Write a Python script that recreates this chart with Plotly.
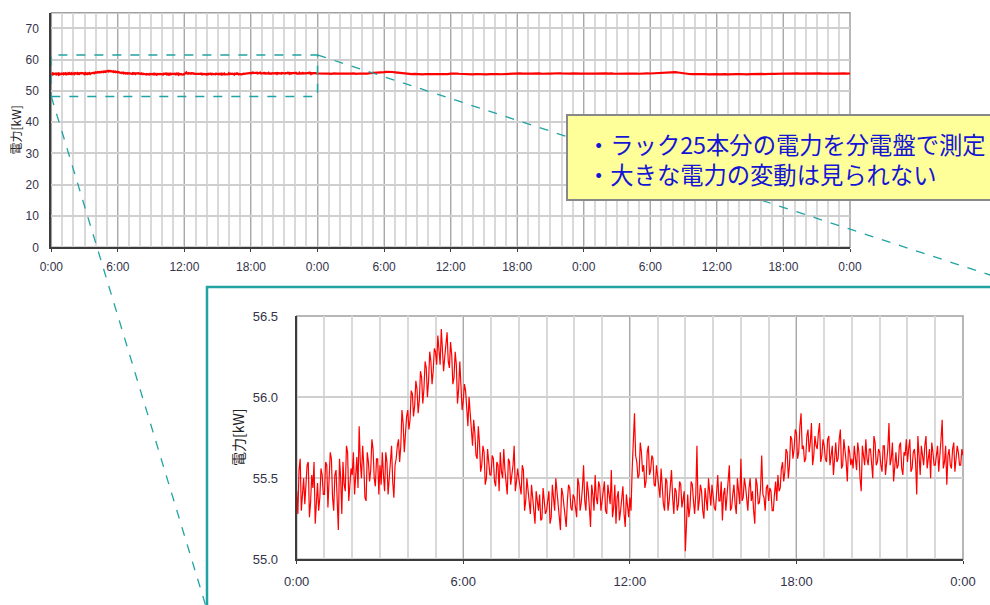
import plotly.graph_objects as go

# ---------------- data ----------------
# Day 1 (inset), samples at :00, :05, :10 ... of every hour, kW, 0:00 .. 24:00
day1_power = [
    55.42, 55.55, 55.30, 55.50, 55.48, 55.60, 55.35, 55.44, 55.22, 55.47, 55.38, 55.52,
    55.40, 55.58, 55.45, 55.62, 55.30, 55.55, 55.18, 55.50, 55.60, 55.42, 55.66, 55.48,
    55.52, 55.40, 55.63, 55.82, 55.50, 55.58, 55.36, 55.60, 55.55, 55.68, 55.45, 55.62,
    55.58, 55.66, 55.42, 55.60, 55.52, 55.70, 55.38, 55.62, 55.74, 55.70, 55.84, 55.78,
    55.92, 55.86, 56.02, 55.95, 56.05, 55.98, 56.12, 56.05, 56.18, 56.10, 56.22, 56.16,
    56.28, 56.38, 56.20, 56.32, 56.25, 56.40, 56.18, 56.26, 56.12, 56.20, 56.05, 56.10,
    55.98, 56.04, 55.82, 55.90, 55.70, 55.78, 55.62, 55.72, 55.58, 55.66, 55.50, 55.60,
    55.52, 55.62, 55.45, 55.58, 55.66, 55.50, 55.55, 55.40, 55.60, 55.52, 55.70, 55.48,
    55.50, 55.40, 55.55, 55.36, 55.44, 55.28, 55.38, 55.22, 55.34, 55.40, 55.25, 55.36,
    55.30, 55.42, 55.26, 55.38, 55.50, 55.32, 55.18, 55.40, 55.28, 55.36, 55.44, 55.30,
    55.38, 55.26, 55.46, 55.35, 55.58, 55.30, 55.42, 55.20, 55.40, 55.52, 55.34, 55.45,
    55.36, 55.48, 55.28, 55.40, 55.55, 55.32, 55.22, 55.42, 55.30, 55.45, 55.20, 55.34,
    55.38, 55.55, 55.90, 55.60, 55.52, 55.66, 55.58, 55.48, 55.70, 55.55, 55.62, 55.45,
    55.50, 55.38, 55.44, 55.30, 55.48, 55.36, 55.55, 55.28, 55.42, 55.34, 55.46, 55.38,
    55.05, 55.40, 55.32, 55.46, 55.28, 55.70, 55.36, 55.42, 55.25, 55.38, 55.50, 55.33,
    55.40, 55.30, 55.52, 55.36, 55.24, 55.44, 55.38, 55.58, 55.32, 55.46, 55.28, 55.40,
    55.62, 55.38, 55.45, 55.30, 55.50, 55.42, 55.22, 55.46, 55.35, 55.64, 55.38, 55.44,
    55.36, 55.42, 55.30, 55.48, 55.52, 55.44, 55.60, 55.54, 55.66, 55.58, 55.74, 55.68,
    55.78, 55.66, 55.90, 55.70, 55.62, 55.80, 55.72, 55.58, 55.76, 55.68, 55.84, 55.64,
    55.70, 55.60, 55.76, 55.66, 55.52, 55.72, 55.62, 55.80, 55.58, 55.68, 55.48, 55.66,
    55.62, 55.70, 55.55, 55.66, 55.42, 55.64, 55.74, 55.58, 55.68, 55.50, 55.72, 55.60,
    55.66, 55.54, 55.70, 55.60, 55.84, 55.62, 55.48, 55.66, 55.58, 55.72, 55.52, 55.64,
    55.60, 55.74, 55.56, 55.68, 55.40, 55.64, 55.70, 55.58, 55.76, 55.62, 55.50, 55.66,
    55.58, 55.70, 55.62, 55.86, 55.60, 55.46, 55.68, 55.56, 55.72, 55.62, 55.66, 55.58,
    55.64,
]

# Day 1, samples in between (at :02.5, :07.5, ...)
day1_mid = [
    55.28, 55.62, 55.40, 55.34, 55.58, 55.26, 55.52, 55.60, 55.36, 55.30, 55.56, 55.40,
    55.60, 55.32, 55.66, 55.38, 55.52, 55.40, 55.62, 55.28, 55.46, 55.70, 55.36, 55.56,
    55.66, 55.50, 55.44, 55.60, 55.70, 55.38, 55.66, 55.48, 55.74, 55.50, 55.62, 55.40,
    55.46, 55.52, 55.66, 55.40, 55.64, 55.48, 55.58, 55.70, 55.60, 55.92, 55.66, 55.88,
    55.80, 56.04, 55.88, 56.10, 55.90, 56.16, 55.96, 56.22, 56.00, 56.28, 56.08, 56.30,
    56.20, 56.30, 56.42, 56.16, 56.36, 56.22, 56.34, 56.08, 56.28, 55.96, 56.22, 55.92,
    56.08, 55.88, 56.00, 55.76, 55.86, 55.64, 55.82, 55.54, 55.70, 55.46, 55.68, 55.52,
    55.64, 55.48, 55.60, 55.42, 55.54, 55.68, 55.44, 55.62, 55.46, 55.58, 55.42, 55.56,
    55.44, 55.58, 55.30, 55.50, 55.36, 55.46, 55.26, 55.42, 55.30, 55.24, 55.44, 55.28,
    55.38, 55.22, 55.46, 55.30, 55.40, 55.26, 55.44, 55.34, 55.20, 55.46, 55.32, 55.40,
    55.32, 55.50, 55.30, 55.44, 55.36, 55.48, 55.32, 55.46, 55.30, 55.38, 55.48, 55.30,
    55.44, 55.30, 55.46, 55.34, 55.26, 55.46, 55.38, 55.24, 55.40, 55.28, 55.40, 55.26,
    55.30, 55.70, 55.64, 55.50, 55.72, 55.54, 55.44, 55.66, 55.52, 55.64, 55.46, 55.58,
    55.42, 55.56, 55.34, 55.50, 55.30, 55.46, 55.38, 55.44, 55.30, 55.48, 55.32, 55.42,
    55.30, 55.26, 55.48, 55.36, 55.40, 55.30, 55.46, 55.30, 55.44, 55.30, 55.40, 55.46,
    55.32, 55.46, 55.36, 55.48, 55.40, 55.30, 55.48, 55.30, 55.40, 55.34, 55.50, 55.34,
    55.36, 55.50, 55.34, 55.44, 55.36, 55.30, 55.50, 55.34, 55.44, 55.40, 55.30, 55.46,
    55.44, 55.30, 55.40, 55.36, 55.42, 55.56, 55.48, 55.68, 55.50, 55.76, 55.62, 55.80,
    55.62, 55.82, 55.68, 55.60, 55.76, 55.66, 55.84, 55.64, 55.70, 55.78, 55.60, 55.74,
    55.62, 55.74, 55.58, 55.70, 55.64, 55.60, 55.74, 55.56, 55.74, 55.60, 55.70, 55.58,
    55.56, 55.64, 55.72, 55.50, 55.70, 55.58, 55.62, 55.68, 55.56, 55.76, 55.58, 55.68,
    55.58, 55.70, 55.52, 55.68, 55.58, 55.72, 55.60, 55.56, 55.70, 55.56, 55.66, 55.74,
    55.68, 55.54, 55.66, 55.60, 55.76, 55.52, 55.62, 55.70, 55.56, 55.68, 55.72, 55.58,
    55.66, 55.54, 55.74, 55.56, 55.70, 55.64, 55.58, 55.68, 55.54, 55.70, 55.58, 55.68,
]

# Day 2, 15-minute samples
day2_power = [
    55.62, 55.50, 55.58, 55.46, 55.55, 55.42, 55.60, 55.50, 55.48, 55.56, 55.40, 55.54,
    55.50, 55.60, 55.45, 55.56, 55.52, 55.62, 55.55, 55.68, 55.70, 55.78, 55.85, 55.92,
    55.98, 56.08, 56.12, 56.05, 55.95, 55.82, 55.70, 55.60, 55.52, 55.45, 55.38, 55.44,
    55.36, 55.42, 55.30, 55.40, 55.38, 55.32, 55.44, 55.35, 55.40, 55.30, 55.42, 55.36,
    55.50, 55.62, 55.56, 55.48, 55.40, 55.34, 55.42, 55.36, 55.30, 55.40, 55.34, 55.42,
    55.36, 55.28, 55.38, 55.44, 55.34, 55.40, 55.32, 55.38, 55.42, 55.36, 55.48, 55.44,
    55.52, 55.58, 55.50, 55.62, 55.56, 55.50, 55.60, 55.54, 55.58, 55.48, 55.62, 55.56,
    55.52, 55.60, 55.55, 55.64, 55.58, 55.50, 55.62, 55.54, 55.60, 55.52, 55.58, 55.50,
]

# Day 3, 15-minute samples (incl. final 24:00)
day3_power = [
    55.56, 55.48, 55.60, 55.52, 55.50, 55.58, 55.46, 55.54, 55.58, 55.50, 55.62, 55.48,
    55.52, 55.60, 55.54, 55.46, 55.56, 55.50, 55.62, 55.54, 55.48, 55.58, 55.52, 55.60,
    55.56, 55.62, 55.58, 55.66, 55.72, 55.80, 55.90, 55.98, 56.05, 56.00, 55.88, 55.72,
    55.58, 55.46, 55.40, 55.34, 55.38, 55.30, 55.36, 55.42, 55.34, 55.28, 55.38, 55.32,
    55.36, 55.30, 55.40, 55.34, 55.28, 55.38, 55.32, 55.36, 55.40, 55.30, 55.34, 55.28,
    55.36, 55.42, 55.32, 55.38, 55.44, 55.38, 55.46, 55.40, 55.48, 55.42, 55.50, 55.46,
    55.52, 55.56, 55.50, 55.58, 55.54, 55.60, 55.52, 55.56, 55.58, 55.50, 55.62, 55.54,
    55.56, 55.60, 55.52, 55.58, 55.54, 55.62, 55.56, 55.50, 55.58, 55.52, 55.60, 55.54,
    55.56,
]

top_tick_hours = [0, 6, 12, 18, 24, 30, 36, 42, 48, 54, 60, 66, 72]
top_tick_labels = ["0:00", "6:00", "12:00", "18:00", "0:00", "6:00", "12:00",
                   "18:00", "0:00", "6:00", "12:00", "18:00", "0:00"]
top_y_ticks = [0, 10, 20, 30, 40, 50, 60, 70]

inset_tick_hours = [0, 6, 12, 18, 24]
inset_tick_labels = ["0:00", "6:00", "12:00", "18:00", "0:00"]
inset_y_ticks = [55.0, 55.5, 56.0, 56.5]
inset_y_labels = ["55.0", "55.5", "56.0", "56.5"]

zoom_box = dict(x0=0, x1=24, y0=48.2, y1=61.5)

y_title = "電力[kW]"
note_lines = ["・ラック25本分の電力を分電盤で測定", "・大きな電力の変動は見られない"]

# ---------------- derived ----------------
day1_x, day1_y = [], []
for i, v in enumerate(day1_mid):
    day1_x += [i / 12, i / 12 + 1 / 24]
    day1_y += [day1_power[i], v]
day1_x.append(24.0)
day1_y.append(day1_power[-1])

day2_x = [24 + i / 4 for i in range(len(day2_power))]
day3_x = [48 + i / 4 for i in range(len(day3_power))]
top_x = day1_x[:-1] + day2_x + day3_x
top_y = day1_y[:-1] + day2_power + day3_power

W, H = 990, 605
def px(x): return x / W
def py(y): return 1 - y / H

RED = "#FF0000"
TEAL = "#22A3A3"
LBL = "#33334a"
FONT = "Liberation Sans"

fig = go.Figure()
fig.add_trace(go.Scatter(x=top_x, y=top_y, mode="lines",
                         line=dict(color=RED, width=2.2), xaxis="x", yaxis="y",
                         showlegend=False, hoverinfo="skip"))
fig.add_trace(go.Scatter(x=day1_x, y=day1_y, mode="lines",
                         line=dict(color=RED, width=1.2), xaxis="x2", yaxis="y2",
                         showlegend=False, hoverinfo="skip"))

def xaxis_common(rng, tv, tt, dom, size, stand):
    return dict(domain=dom, range=rng, tickmode="array", tickvals=tv, ticktext=tt,
                showgrid=True, gridcolor="#a9a9a9", gridwidth=1,
                minor=dict(tickmode="linear", tick0=0, dtick=1, showgrid=True,
                           gridcolor="#d9d9d9", gridwidth=1.5),
                showline=True, linecolor="#3c3c3c", linewidth=2,
                ticks="outside", ticklen=3, tickcolor="#3c3c3c",
                ticklabelstandoff=stand, automargin=False,
                tickfont=dict(family=FONT, size=size, color=LBL),
                zeroline=False, fixedrange=True)

def yaxis_common(rng, tv, tt, dom, size, stand):
    return dict(domain=dom, range=rng, tickmode="array", tickvals=tv, ticktext=tt,
                showgrid=True, gridcolor="#cfcfcf", gridwidth=1.5,
                showline=True, linecolor="#3c3c3c", linewidth=2,
                ticks="", ticklabelstandoff=stand, automargin=False,
                tickfont=dict(family=FONT, size=size, color=LBL),
                zeroline=False, fixedrange=True)

top_xdom = [px(51.3), px(850)]
top_ydom = [py(247.3), py(12.7)]
in_xdom = [px(296.7), px(963)]
in_ydom = [py(559.3), py(316)]

fig.update_layout(
    width=W, height=H, margin=dict(l=0, r=0, t=0, b=0, pad=0),
    paper_bgcolor="white", plot_bgcolor="white",
    xaxis=xaxis_common([0, 72], top_tick_hours, top_tick_labels, top_xdom, 12, 4),
    yaxis=yaxis_common([0, 75], top_y_ticks, [str(v) for v in top_y_ticks], top_ydom, 12, 8),
    xaxis2=dict(xaxis_common([0, 24], inset_tick_hours, inset_tick_labels, in_xdom, 13, 6), anchor="y2"),
    yaxis2=dict(yaxis_common([55.0, 56.5], inset_y_ticks, inset_y_labels, in_ydom, 13, 14), anchor="x2"),
)

shapes = []
# gray top/right frames of plot areas
for xr, yr in (("x domain", "y domain"), ("x2 domain", "y2 domain")):
    shapes.append(dict(type="rect", xref=xr, yref=yr, x0=0, x1=1, y0=0, y1=1,
                       line=dict(color="#a0a0a0", width=1.5), layer="below"))
# inset frame
shapes.append(dict(type="rect", xref="paper", yref="paper",
                   x0=px(207), x1=px(1040), y0=py(620), y1=py(287),
                   line=dict(color=TEAL, width=2.5), layer="below"))
# zoom rectangle on top chart
shapes.append(dict(type="rect", xref="x", yref="y", **zoom_box,
                   line=dict(color=TEAL, width=1.5, dash="dash"), layer="above"))
# connector lines
shapes.append(dict(type="line", xref="paper", yref="paper",
                   x0=px(317.3), y0=py(54.9), x1=px(1026.6), y1=py(287),
                   line=dict(color=TEAL, width=1.3, dash="dash"), layer="above"))
shapes.append(dict(type="line", xref="paper", yref="paper",
                   x0=px(51.3), y0=py(96.5), x1=px(205.5), y1=py(605),
                   line=dict(color=TEAL, width=1.3, dash="dash"), layer="above"))
# callout box
shapes.append(dict(type="rect", xref="paper", yref="paper",
                   x0=px(567), x1=px(1010), y0=py(200), y1=py(115),
                   fillcolor="#FFFF99", line=dict(color="#888888", width=2), layer="above"))
fig.update_layout(shapes=shapes)

annotations = [
    dict(text=y_title, xref="paper", yref="paper", x=px(15.5), y=py(130),
         textangle=-90, showarrow=False, xanchor="center", yanchor="middle",
         font=dict(family="Noto Sans CJK JP", size=12, color="#222")),
    dict(text=y_title, xref="paper", yref="paper", x=px(238), y=py(438),
         textangle=-90, showarrow=False, xanchor="center", yanchor="middle",
         font=dict(family="Noto Sans CJK JP", size=14, color="#222")),
    dict(text="<br>".join(note_lines), xref="paper", yref="paper",
         x=px(585), y=py(159), xanchor="left", yanchor="middle", align="left",
         showarrow=False,
         font=dict(family="Noto Sans CJK JP", size=23.3, color="#1515D5")),
]
fig.update_layout(annotations=annotations)

fig.write_html("out.html", config={"displayModeBar": False},
               post_script="document.body.style.margin='0px';document.body.style.overflow='hidden';")
